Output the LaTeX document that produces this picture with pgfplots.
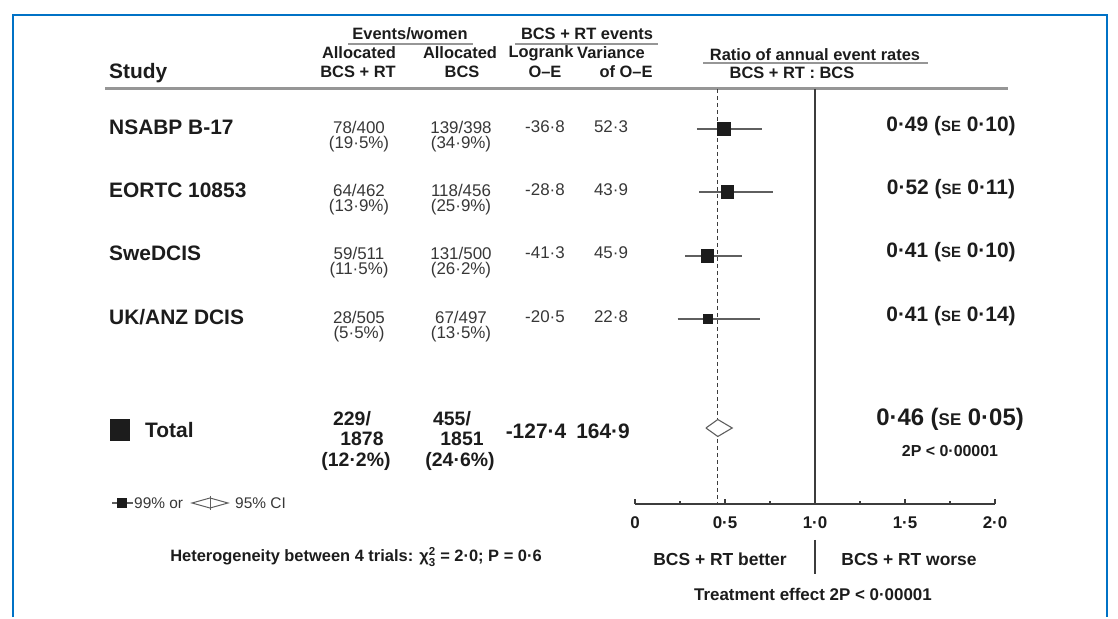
\documentclass[border=0pt]{standalone}
\usepackage{pgfplots}
\pgfplotsset{compat=1.18}
\usepackage{fontspec}
\setmainfont{Liberation Sans}
\definecolor{frameblue}{RGB}{0,114,198}
\definecolor{txt}{RGB}{28,28,28}
\definecolor{gtxt}{RGB}{55,55,55}
\definecolor{cigray}{RGB}{95,95,95}
\definecolor{rulegray}{RGB}{150,150,150}
\definecolor{axgray}{RGB}{60,60,60}
\newcommand{\fs}[1]{\fontsize{#1}{#1}\selectfont}
\newcommand{\se}[1]{{\fontsize{#1}{#1}\selectfont SE}}
\begin{document}
\begin{tikzpicture}
% ---------- overlay axis in pixel coordinates (text, frame) ----------
\begin{axis}[at={(0,0)}, anchor=south west, scale only axis,
  width=1118bp, height=617bp, xmin=0, xmax=1118, ymin=-617, ymax=0,
  hide axis, clip=false]
\path (0,0) rectangle (1118,-617);
\draw[frameblue, line width=2.5bp] (13,-617) -- (13,-15) -- (1107,-15) -- (1107,-617);
% header
\begin{scope}[every node/.style={text=txt, font=\fs{16.5}\bfseries, inner sep=0pt}]
\node[anchor=west, font=\fs{21}\bfseries] at (109,-73) {Study};
\node at (410,-34) {Events/women};
\node at (587,-34) {BCS + RT events};
\node at (359,-53) {Allocated};
\node at (460,-53) {Allocated};
\node at (541,-53) {Logrank};
\node at (611,-53) {Variance};
\node at (358,-72) {BCS + RT};
\node at (462,-72) {BCS};
\node at (545,-72) {O–E};
\node at (626,-72) {of O–E};
\node at (815,-55) {Ratio of annual event rates};
\node at (792,-73) {BCS + RT : BCS};
\end{scope}
\draw[rulegray, line width=1.3bp] (348,-44) -- (473,-44);
\draw[rulegray, line width=1.3bp] (515,-44) -- (658,-44);
\draw[rulegray, line width=1.3bp] (703,-63) -- (928,-63);
\draw[rulegray, line width=3bp] (105,-89) -- (1008,-89);
% study names
\begin{scope}[every node/.style={text=txt, font=\fs{21}\bfseries, inner sep=0pt, anchor=west}]
\node at (109,-127) {NSABP B-17};
\node at (109,-190) {EORTC 10853};
\node at (109,-253) {SweDCIS};
\node at (109,-317) {UK/ANZ DCIS};
\end{scope}
% row numbers
\begin{scope}[every node/.style={text=gtxt, font=\fs{17}, inner sep=0pt}]
\node at (359,-127) {78/400};   \node at (359,-144) {(19·5\%)};
\node at (461,-127) {139/398};  \node at (461,-144) {(34·9\%)};
\node at (545,-127) {-36·8};    \node at (611,-127) {52·3};
\node at (359,-190) {64/462};   \node at (359,-207) {(13·9\%)};
\node at (461,-190) {118/456};  \node at (461,-207) {(25·9\%)};
\node at (545,-190) {-28·8};    \node at (611,-190) {43·9};
\node at (359,-253) {59/511};   \node at (359,-270) {(11·5\%)};
\node at (461,-253) {131/500};  \node at (461,-270) {(26·2\%)};
\node at (545,-253) {-41·3};    \node at (611,-253) {45·9};
\node at (359,-317) {28/505};   \node at (359,-334) {(5·5\%)};
\node at (461,-317) {67/497};   \node at (461,-334) {(13·5\%)};
\node at (545,-317) {-20·5};    \node at (611,-317) {22·8};
\end{scope}
% right-hand estimates
\begin{scope}[every node/.style={text=txt, font=\fs{21}\bfseries, inner sep=0pt}]
\node at (951,-126) {0·49 (\se{15} 0·10)};
\node at (951,-189) {0·52 (\se{15} 0·11)};
\node at (951,-252) {0·41 (\se{15} 0·10)};
\node at (951,-316) {0·41 (\se{15} 0·14)};
\node[font=\fs{24}\bfseries] at (950,-419) {0·46 (\se{17} 0·05)};
\node[font=\fs{16}\bfseries] at (950,-451) {2P < 0·00001};
% total row
\node[anchor=west] at (145,-430) {Total};
\node[font=\fs{19.5}\bfseries] at (352,-419) {229/};
\node[font=\fs{19.5}\bfseries] at (362,-439) {1878};
\node[font=\fs{19.5}\bfseries] at (356,-461) {(12·2\%)};
\node[font=\fs{19.5}\bfseries] at (452,-419) {455/};
\node[font=\fs{19.5}\bfseries] at (462,-439) {1851};
\node[font=\fs{19.5}\bfseries] at (460,-461) {(24·6\%)};
\node at (536,-431) {-127·4};
\node at (603,-431) {164·9};
\end{scope}
\fill[txt] (110,-419) rectangle (130,-441);
% legend
\draw[cigray, line width=1.2bp] (112,-503) -- (133,-503);
\fill[txt] (117,-498) rectangle (127,-508);
\node[anchor=west, text=gtxt, font=\fs{15.5}, inner sep=0pt] at (134,-503) {99\% or};
\draw[cigray, line width=1bp] (192,-503) -- (210,-498) -- (228,-503) -- (210,-508) -- cycle;
\draw[cigray, line width=1bp] (210,-496) -- (210,-510);
\node[anchor=west, text=gtxt, font=\fs{15.5}, inner sep=0pt] at (235,-503) {95\% CI};
% bottom texts
\node[text=txt, font=\fs{16.5}\bfseries, inner sep=0pt] at (356,-557) {Heterogeneity between 4 trials: χ${}^{\mathbf{2}}_{\mathbf{3}}$ = 2·0; P = 0·6};
\node[text=txt, font=\fs{17.5}\bfseries, inner sep=0pt] at (720,-559) {BCS + RT better};
\node[text=txt, font=\fs{17.5}\bfseries, inner sep=0pt] at (909,-559) {BCS + RT worse};
\draw[axgray, line width=1.3bp] (815,-540) -- (815,-574);
\node[text=txt, font=\fs{17}\bfseries, inner sep=0pt] at (813,-594) {Treatment effect 2P < 0·00001};
\end{axis}
% ---------- forest plot axis ----------
\begin{axis}[at={(635bp,113bp)}, anchor=south west, scale only axis,
  width=360bp, height=415bp, xmin=0, xmax=2, ymin=-504, ymax=-89,
  axis x line=bottom, axis y line=none, clip=false,
  x axis line style={-, line width=1.3bp, color=axgray},
  xtick={0,0.5,1,1.5,2}, xticklabels={0,0·5,1·0,1·5,2·0},
  minor xtick={0.25,0.75,1.25,1.75},
  xtick align=inside, major tick length=5bp, minor tick length=3bp,
  every tick/.style={line width=1.2bp, color=axgray},
  xticklabel style={font=\fs{17}\bfseries, text=txt, yshift=-9bp},
  ytick=\empty]
% reference lines
\addplot[axgray, line width=1.5bp] coordinates {(1,-89) (1,-504)};
\addplot[axgray, line width=1bp, dash pattern=on 4bp off 3bp] coordinates {(0.46,-89) (0.46,-504)};
% 99% confidence intervals
\addplot[cigray, line width=1.3bp] coordinates {(0.344,-129) (0.706,-129)};
\addplot[cigray, line width=1.3bp] coordinates {(0.356,-192) (0.766,-192)};
\addplot[cigray, line width=1.3bp] coordinates {(0.278,-256) (0.593,-256)};
\addplot[cigray, line width=1.3bp] coordinates {(0.237,-319) (0.696,-319)};
% point estimates (box size ~ information)
\addplot[only marks, mark=square*, mark size=6.2bp, mark options={fill=txt, draw=txt, line width=0pt}] coordinates {(0.494,-129) (0.515,-192) (0.404,-256)};
\addplot[only marks, mark=square*, mark size=4.2bp, mark options={fill=txt, draw=txt, line width=0pt}] coordinates {(0.406,-319)};
% overall 95% CI diamond
\addplot[cigray, fill=white, line width=1.1bp] coordinates {(0.394,-428) (0.46,-419.5) (0.54,-428) (0.46,-436.5) (0.394,-428)};
\end{axis}
\end{tikzpicture}
\end{document}
